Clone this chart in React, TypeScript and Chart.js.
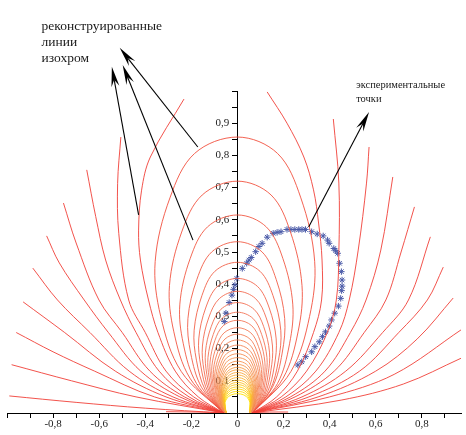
import React, { useEffect, useRef } from 'react';
import { Chart, registerables } from 'chart.js';
Chart.register(...registerables);

type P = [number, number];

// tick labels
const xTickValues = [-0.8, -0.6, -0.4, -0.2, 0, 0.2, 0.4, 0.6, 0.8];
const xTickLabels = ['-0,8', '-0,6', '-0,4', '-0,2', '0', '0,2', '0,4', '0,6', '0,8'];
const yTickValues = [0.1, 0.2, 0.3, 0.4, 0.5, 0.6, 0.7, 0.8, 0.9];
const yTickLabels = ['0,1', '0,2', '0,3', '0,4', '0,5', '0,6', '0,7', '0,8', '0,9'];

// outer isochrome branches (clipped by r = 1), left side, source -> boundary
const leftOuterArcs: P[][] = [
  [[-0.06, 0.001], [-0.18, 0.003], [-0.31, 0.004]],
  [[-0.06, 0], [-0.4, 0.015], [-0.7, 0.033], [-0.99, 0.053]],
  [[-0.06, 0], [-0.44, 0.05], [-0.72, 0.1], [-0.98, 0.15]],
  [[-0.06, 0], [-0.36, 0.05], [-0.62, 0.13], [-0.8, 0.19], [-0.96, 0.25]],
  [[-0.06, 0], [-0.31, 0.05], [-0.53, 0.13], [-0.75, 0.25], [-0.93, 0.345]],
  [[-0.06, 0], [-0.28, 0.05], [-0.47, 0.13], [-0.64, 0.25], [-0.781, 0.351], [-0.888, 0.45]],
  [[-0.06, 0], [-0.25, 0.05], [-0.42, 0.13], [-0.56, 0.25], [-0.665, 0.351], [-0.773, 0.466], [-0.828, 0.55]],
  [[-0.06, 0], [-0.23, 0.05], [-0.38, 0.13], [-0.5, 0.25], [-0.601, 0.351], [-0.7, 0.528], [-0.755, 0.652]],
  [[-0.06, 0], [-0.21, 0.05], [-0.34, 0.13], [-0.44, 0.25], [-0.508, 0.351], [-0.572, 0.475], [-0.615, 0.61], [-0.654, 0.755]],
  [[-0.06, 0], [-0.19, 0.05], [-0.31, 0.13], [-0.4, 0.25], [-0.472, 0.351], [-0.515, 0.558], [-0.52, 0.713], [-0.506, 0.857]],
  [[-0.06, 0], [-0.17, 0.05], [-0.27, 0.13], [-0.345, 0.25], [-0.386, 0.351], [-0.421, 0.475], [-0.429, 0.568], [-0.416, 0.692], [-0.378, 0.795], [-0.232, 0.975]],
];

// outer isochrome branches, right side, source -> boundary
const rightOuterArcs: P[][] = [
  [[0.065, 0.001], [0.14, 0.003], [0.22, 0.003]],
  [[0.065, 0], [0.45, 0.04], [0.72, 0.09], [0.97, 0.17]],
  [[0.065, 0], [0.4, 0.05], [0.68, 0.12], [0.974, 0.26]],
  [[0.065, 0], [0.35, 0.05], [0.6, 0.13], [0.78, 0.23], [0.936, 0.357]],
  [[0.065, 0], [0.31, 0.05], [0.53, 0.13], [0.7, 0.25], [0.824, 0.351], [0.893, 0.453]],
  [[0.065, 0], [0.28, 0.05], [0.47, 0.13], [0.63, 0.25], [0.742, 0.351], [0.837, 0.547]],
  [[0.065, 0], [0.25, 0.05], [0.42, 0.13], [0.55, 0.25], [0.644, 0.351], [0.71, 0.5], [0.768, 0.64]],
  [[0.065, 0], [0.23, 0.05], [0.38, 0.13], [0.49, 0.25], [0.558, 0.351], [0.622, 0.506], [0.674, 0.733]],
  [[0.065, 0], [0.21, 0.05], [0.34, 0.13], [0.44, 0.25], [0.485, 0.351], [0.524, 0.506], [0.56, 0.714], [0.571, 0.826]],
  [[0.065, 0], [0.19, 0.05], [0.3, 0.13], [0.39, 0.25], [0.429, 0.351], [0.44, 0.5], [0.44, 0.714], [0.416, 0.913]],
  [[0.065, 0], [0.17, 0.05], [0.26, 0.13], [0.33, 0.25], [0.365, 0.351], [0.367, 0.475], [0.352, 0.59], [0.33, 0.693], [0.288, 0.795], [0.215, 0.9], [0.129, 0.997]],
];

// closed isochrome loops (left source -> apex -> right source)
const isochromeLoops: P[][] = [
  [[-0.06,0],[-0.244,0.129],[-0.333,0.3],[-0.357,0.471],[-0.293,0.668],[-0.186,0.806],[0,0.857],[0.174,0.806],[0.275,0.668],[0.335,0.471],[0.313,0.3],[0.232,0.129],[0.065,0]],
  [[-0.06,0],[-0.206,0.108],[-0.276,0.252],[-0.295,0.396],[-0.242,0.562],[-0.153,0.677],[0,0.72],[0.146,0.677],[0.23,0.562],[0.28,0.396],[0.263,0.252],[0.198,0.108],[0.065,0]],
  [[-0.06,0],[-0.178,0.092],[-0.235,0.215],[-0.25,0.338],[-0.205,0.48],[-0.13,0.578],[0,0.615],[0.125,0.578],[0.197,0.48],[0.24,0.338],[0.226,0.215],[0.174,0.092],[0.065,0]],
  [[-0.06,0],[-0.156,0.08],[-0.203,0.186],[-0.215,0.293],[-0.176,0.415],[-0.112,0.5],[0,0.532],[0.107,0.5],[0.168,0.415],[0.205,0.293],[0.194,0.186],[0.152,0.08],[0.065,0]],
  [[-0.06,0],[-0.139,0.07],[-0.178,0.164],[-0.188,0.257],[-0.154,0.365],[-0.098,0.44],[0,0.468],[0.098,0.44],[0.154,0.365],[0.188,0.257],[0.178,0.164],[0.141,0.07],[0.065,0]],
  [[-0.06,0],[-0.127,0.063],[-0.159,0.146],[-0.168,0.23],[-0.138,0.326],[-0.087,0.393],[0,0.418],[0.087,0.393],[0.138,0.326],[0.168,0.23],[0.16,0.146],[0.129,0.063],[0.065,0]],
  [[-0.06,0],[-0.117,0.057],[-0.145,0.132],[-0.152,0.208],[-0.125,0.295],[-0.079,0.355],[0,0.378],[0.079,0.355],[0.125,0.295],[0.152,0.208],[0.145,0.132],[0.119,0.057],[0.065,0]],
  [[-0.06,0],[-0.109,0.051],[-0.133,0.12],[-0.139,0.189],[-0.114,0.268],[-0.072,0.322],[0,0.343],[0.072,0.322],[0.114,0.268],[0.139,0.189],[0.133,0.12],[0.111,0.051],[0.065,0]],
  [[-0.06,0],[-0.102,0.047],[-0.123,0.11],[-0.128,0.172],[-0.105,0.244],[-0.067,0.294],[0,0.313],[0.067,0.294],[0.105,0.244],[0.128,0.172],[0.123,0.11],[0.104,0.047],[0.065,0]],
  [[-0.06,0],[-0.097,0.043],[-0.114,0.101],[-0.119,0.158],[-0.098,0.225],[-0.062,0.271],[0,0.288],[0.062,0.271],[0.098,0.225],[0.119,0.158],[0.115,0.101],[0.098,0.043],[0.065,0]],
  [[-0.06,0],[-0.092,0.04],[-0.107,0.093],[-0.111,0.146],[-0.091,0.207],[-0.058,0.249],[0,0.265],[0.058,0.249],[0.091,0.207],[0.111,0.146],[0.107,0.093],[0.094,0.04],[0.065,0]],
  [[-0.06,0],[-0.087,0.037],[-0.1,0.086],[-0.104,0.135],[-0.085,0.191],[-0.054,0.23],[0,0.245],[0.054,0.23],[0.085,0.191],[0.104,0.135],[0.101,0.086],[0.089,0.037],[0.065,0]],
  [[-0.055,0],[-0.082,0.034],[-0.095,0.079],[-0.098,0.125],[-0.08,0.177],[-0.051,0.213],[0,0.227],[0.051,0.213],[0.08,0.177],[0.098,0.125],[0.095,0.079],[0.084,0.034],[0.06,0]],
  [[-0.055,0],[-0.079,0.032],[-0.09,0.074],[-0.093,0.116],[-0.076,0.165],[-0.048,0.198],[0,0.211],[0.048,0.198],[0.076,0.165],[0.093,0.116],[0.09,0.074],[0.08,0.032],[0.06,0]],
  [[-0.055,0],[-0.075,0.03],[-0.085,0.069],[-0.088,0.108],[-0.072,0.154],[-0.046,0.185],[0,0.197],[0.046,0.185],[0.072,0.154],[0.088,0.108],[0.086,0.069],[0.077,0.03],[0.06,0]],
  [[-0.055,0],[-0.073,0.028],[-0.082,0.064],[-0.084,0.101],[-0.069,0.144],[-0.044,0.173],[0,0.184],[0.044,0.173],[0.069,0.144],[0.084,0.101],[0.082,0.064],[0.075,0.028],[0.06,0]],
  [[-0.055,0],[-0.071,0.026],[-0.078,0.06],[-0.08,0.095],[-0.066,0.134],[-0.042,0.162],[0,0.172],[0.042,0.162],[0.066,0.134],[0.08,0.095],[0.078,0.06],[0.072,0.026],[0.06,0]],
  [[-0.055,0],[-0.069,0.024],[-0.075,0.056],[-0.077,0.089],[-0.063,0.126],[-0.04,0.151],[0,0.161],[0.04,0.151],[0.063,0.126],[0.077,0.089],[0.076,0.056],[0.071,0.024],[0.06,0]],
  [[-0.055,0],[-0.067,0.023],[-0.072,0.053],[-0.074,0.083],[-0.061,0.118],[-0.038,0.142],[0,0.151],[0.038,0.142],[0.061,0.118],[0.074,0.083],[0.073,0.053],[0.069,0.023],[0.06,0]],
  [[-0.055,0],[-0.065,0.021],[-0.07,0.05],[-0.071,0.078],[-0.058,0.111],[-0.037,0.133],[0,0.142],[0.037,0.133],[0.058,0.111],[0.071,0.078],[0.07,0.05],[0.067,0.021],[0.06,0]],
  [[-0.055,0],[-0.064,0.02],[-0.068,0.047],[-0.069,0.074],[-0.057,0.105],[-0.036,0.126],[0,0.134],[0.036,0.126],[0.057,0.105],[0.069,0.074],[0.068,0.047],[0.066,0.02],[0.06,0]],
  [[-0.055,0],[-0.062,0.019],[-0.066,0.044],[-0.067,0.069],[-0.055,0.098],[-0.035,0.118],[0,0.126],[0.035,0.118],[0.055,0.098],[0.067,0.069],[0.066,0.044],[0.064,0.019],[0.06,0]],
  [[-0.048,0],[-0.059,0.018],[-0.064,0.041],[-0.065,0.065],[-0.053,0.092],[-0.034,0.111],[0,0.118],[0.034,0.111],[0.053,0.092],[0.065,0.065],[0.064,0.041],[0.06,0.018],[0.053,0]],
  [[-0.048,0],[-0.057,0.017],[-0.062,0.039],[-0.063,0.061],[-0.052,0.086],[-0.033,0.103],[0,0.11],[0.033,0.103],[0.052,0.086],[0.063,0.061],[0.062,0.039],[0.059,0.017],[0.053,0]],
  [[-0.048,0],[-0.056,0.015],[-0.06,0.036],[-0.061,0.056],[-0.05,0.08],[-0.032,0.096],[0,0.102],[0.032,0.096],[0.05,0.08],[0.061,0.056],[0.06,0.036],[0.058,0.015],[0.053,0]],
  [[-0.048,0],[-0.055,0.014],[-0.058,0.033],[-0.059,0.052],[-0.048,0.074],[-0.031,0.089],[0,0.095],[0.031,0.089],[0.048,0.074],[0.059,0.052],[0.059,0.033],[0.057,0.014],[0.053,0]],
  [[-0.048,0],[-0.054,0.013],[-0.057,0.031],[-0.058,0.048],[-0.048,0.069],[-0.03,0.083],[0,0.088],[0.03,0.083],[0.048,0.069],[0.058,0.048],[0.058,0.031],[0.056,0.013],[0.053,0]],
  [[-0.048,0],[-0.054,0.012],[-0.056,0.028],[-0.057,0.045],[-0.047,0.063],[-0.03,0.076],[0,0.081],[0.03,0.076],[0.047,0.063],[0.057,0.045],[0.057,0.028],[0.056,0.012],[0.053,0]],
  [[-0.048,0],[-0.053,0.011],[-0.055,0.026],[-0.056,0.041],[-0.046,0.058],[-0.029,0.07],[0,0.074],[0.029,0.07],[0.046,0.058],[0.056,0.041],[0.056,0.026],[0.055,0.011],[0.053,0]],
  [[-0.048,0],[-0.052,0.01],[-0.054,0.023],[-0.055,0.037],[-0.045,0.052],[-0.029,0.063],[0,0.067],[0.029,0.063],[0.045,0.052],[0.055,0.037],[0.055,0.023],[0.054,0.01],[0.053,0]],
  [[-0.048,0],[-0.051,0.009],[-0.053,0.021],[-0.054,0.033],[-0.044,0.047],[-0.028,0.056],[0,0.06],[0.028,0.056],[0.044,0.047],[0.054,0.033],[0.054,0.021],[0.053,0.009],[0.053,0]],
];

// experimental points
const expX = [-0.057,-0.05,-0.036,-0.024,-0.017,-0.011,-0.003,0.021,0.04,0.05,0.06,0.079,0.093,0.107,0.129,0.155,0.172,0.189,0.215,0.232,0.249,0.266,0.28,0.295,0.322,0.346,0.372,0.391,0.398,0.418,0.426,0.435,0.443,0.451,0.454,0.454,0.452,0.448,0.438,0.422,0.408,0.398,0.382,0.369,0.355,0.336,0.322,0.296,0.279,0.262];
const expY = [0.284,0.31,0.343,0.366,0.384,0.398,0.418,0.449,0.465,0.475,0.483,0.501,0.517,0.527,0.546,0.558,0.561,0.563,0.57,0.57,0.57,0.57,0.57,0.57,0.563,0.556,0.55,0.537,0.527,0.511,0.504,0.496,0.465,0.439,0.413,0.394,0.38,0.356,0.332,0.31,0.289,0.27,0.252,0.237,0.221,0.206,0.19,0.175,0.159,0.149];

// annotation arrows (tail -> tip) in data units
const arrows: [number, number, number, number][] = [
  [-0.429, 0.615, -0.545, 1.075],
  [-0.193, 0.537, -0.498, 1.081],
  [-0.172, 0.826, -0.511, 1.134],
  [0.309, 0.578, 0.571, 0.935],
];
const noteLeftLines = ['реконструированные', 'линии', 'изохром'];
const noteRightLines = ['экспериментальные', 'точки'];

const SERIF = '"Liberation Serif", "DejaVu Serif", "Times New Roman", serif';

function loopColor(i: number, n: number): string {
  const t = i / (n - 1);
  const stops: [number, number[]][] = [
    [0, [242, 80, 62]],
    [0.3, [243, 120, 90]],
    [0.6, [246, 152, 80]],
    [0.8, [250, 185, 45]],
    [1, [255, 226, 0]],
  ];
  for (let k = 0; k < stops.length - 1; k++) {
    const [t0, c0] = stops[k];
    const [t1, c1] = stops[k + 1];
    if (t <= t1) {
      const f = (t - t0) / (t1 - t0);
      const c = c0.map((v, j) => Math.round(v + (c1[j] - v) * f));
      return `rgb(${c[0]},${c[1]},${c[2]})`;
    }
  }
  return 'rgb(255,226,0)';
}

function drawArrow(ctx: CanvasRenderingContext2D, x1: number, y1: number, x2: number, y2: number) {
  const ang = Math.atan2(y2 - y1, x2 - x1);
  const c = Math.cos(ang), s = Math.sin(ang);
  const L = 20, W = 4, N = 13;
  ctx.beginPath();
  ctx.moveTo(x1, y1);
  ctx.lineTo(x2 - c * N, y2 - s * N);
  ctx.stroke();
  ctx.beginPath();
  ctx.moveTo(x2, y2);
  ctx.lineTo(x2 - L * c + W * s, y2 - L * s - W * c);
  ctx.lineTo(x2 - N * c, y2 - N * s);
  ctx.lineTo(x2 - L * c - W * s, y2 - L * s + W * c);
  ctx.closePath();
  ctx.fill();
}

const overlay = {
  id: 'overlay',
  afterDraw(chart: any) {
    const { ctx } = chart;
    const xs = chart.scales.x;
    const ys = chart.scales.y;
    ctx.save();
    ctx.strokeStyle = '#000';
    ctx.fillStyle = '#000';
    ctx.lineWidth = 1.1;
    for (const a of arrows) {
      drawArrow(ctx, xs.getPixelForValue(a[0]), ys.getPixelForValue(a[1]), xs.getPixelForValue(a[2]), ys.getPixelForValue(a[3]));
    }
    ctx.fillStyle = '#1a1a1a';
    ctx.textAlign = 'left';
    ctx.textBaseline = 'alphabetic';
    ctx.font = `13.5px ${SERIF}`;
    const lx = xs.getPixelForValue(-0.85);
    const ly = [1.189, 1.14, 1.09];
    noteLeftLines.forEach((t, i) => ctx.fillText(t, lx, ys.getPixelForValue(ly[i])));
    ctx.font = `10.5px ${SERIF}`;
    const rx = xs.getPixelForValue(0.515);
    const ry = [1.009, 0.966];
    noteRightLines.forEach((t, i) => ctx.fillText(t, rx, ys.getPixelForValue(ry[i])));
    ctx.restore();
  },
};

export default function App() {
  const ref = useRef<HTMLCanvasElement | null>(null);
  useEffect(() => {
    const canvas = ref.current;
    if (!canvas) return;
    const toXY = (pts: P[]) => pts.map(([x, y]) => ({ x, y }));
    const lineDs = (pts: P[], color: string) => ({
      data: toXY(pts),
      showLine: true,
      borderColor: color,
      borderWidth: 0.9,
      pointRadius: 0,
      pointHoverRadius: 0,
      tension: 0.35,
      fill: false,
    });
    const datasets: any[] = [];
    leftOuterArcs.forEach((a) => datasets.push(lineDs(a, 'rgb(240,64,56)')));
    rightOuterArcs.forEach((a) => datasets.push(lineDs(a, 'rgb(240,64,56)')));
    isochromeLoops.forEach((a, i) => datasets.push(lineDs(a, loopColor(i, isochromeLoops.length))));
    datasets.push({
      data: expX.map((x, i) => ({ x, y: expY[i] })),
      showLine: false,
      pointStyle: 'star',
      pointRadius: 3.2,
      borderColor: '#4a5aa8',
      backgroundColor: '#4a5aa8',
      borderWidth: 1,
    });
    const chart = new Chart(canvas, {
      type: 'scatter',
      data: { datasets },
      options: {
        animation: false,
        responsive: false,
        devicePixelRatio: 1,
        events: [],
        layout: { padding: { left: 7, right: 0, top: 91, bottom: 22 } },
        plugins: { legend: { display: false }, tooltip: { enabled: false } },
        scales: {
          x: {
            type: 'linear',
            axis: 'x',
            position: { y: 0 } as any,
            min: -1.0,
            max: 0.97,
            afterFit: (s: any) => { s.height = 0; },
            border: { display: true, color: '#000', width: 1 },
            grid: { drawOnChartArea: false, drawTicks: true, tickLength: 4, color: '#000' },
            ticks: {
              stepSize: 0.1,
              includeBounds: false,
              autoSkip: false,
              maxRotation: 0,
              padding: 1,
              color: '#222',
              font: { family: SERIF, size: 11 },
              callback: (v: any) => {
                const i = xTickValues.findIndex((t) => Math.abs(t - Number(v)) < 1e-6);
                return i >= 0 ? xTickLabels[i] : '';
              },
            },
          },
          y: {
            type: 'linear',
            axis: 'y',
            position: { x: 0 } as any,
            min: 0,
            max: 1,
            afterFit: (s: any) => { s.width = 0; },
            border: { display: true, color: '#000', width: 1 },
            grid: { drawOnChartArea: false, drawTicks: true, tickLength: 5, color: '#000' },
            ticks: {
              stepSize: 0.05,
              autoSkip: false,
              color: '#222',
              font: { family: SERIF, size: 11 },
              callback: (v: any) => {
                const i = yTickValues.findIndex((t) => Math.abs(t - Number(v)) < 1e-6);
                return i >= 0 ? yTickLabels[i] + '   ' : '';
              },
            },
          },
        },
      },
      plugins: [overlay],
    });
    return () => chart.destroy();
  }, []);
  return (
    <div style={{ position: 'absolute', left: 0, top: 0, width: 466, height: 435 }}>
      <canvas ref={ref} width={466} height={435} style={{ display: 'block', width: 466, height: 435 }} />
    </div>
  );
}
